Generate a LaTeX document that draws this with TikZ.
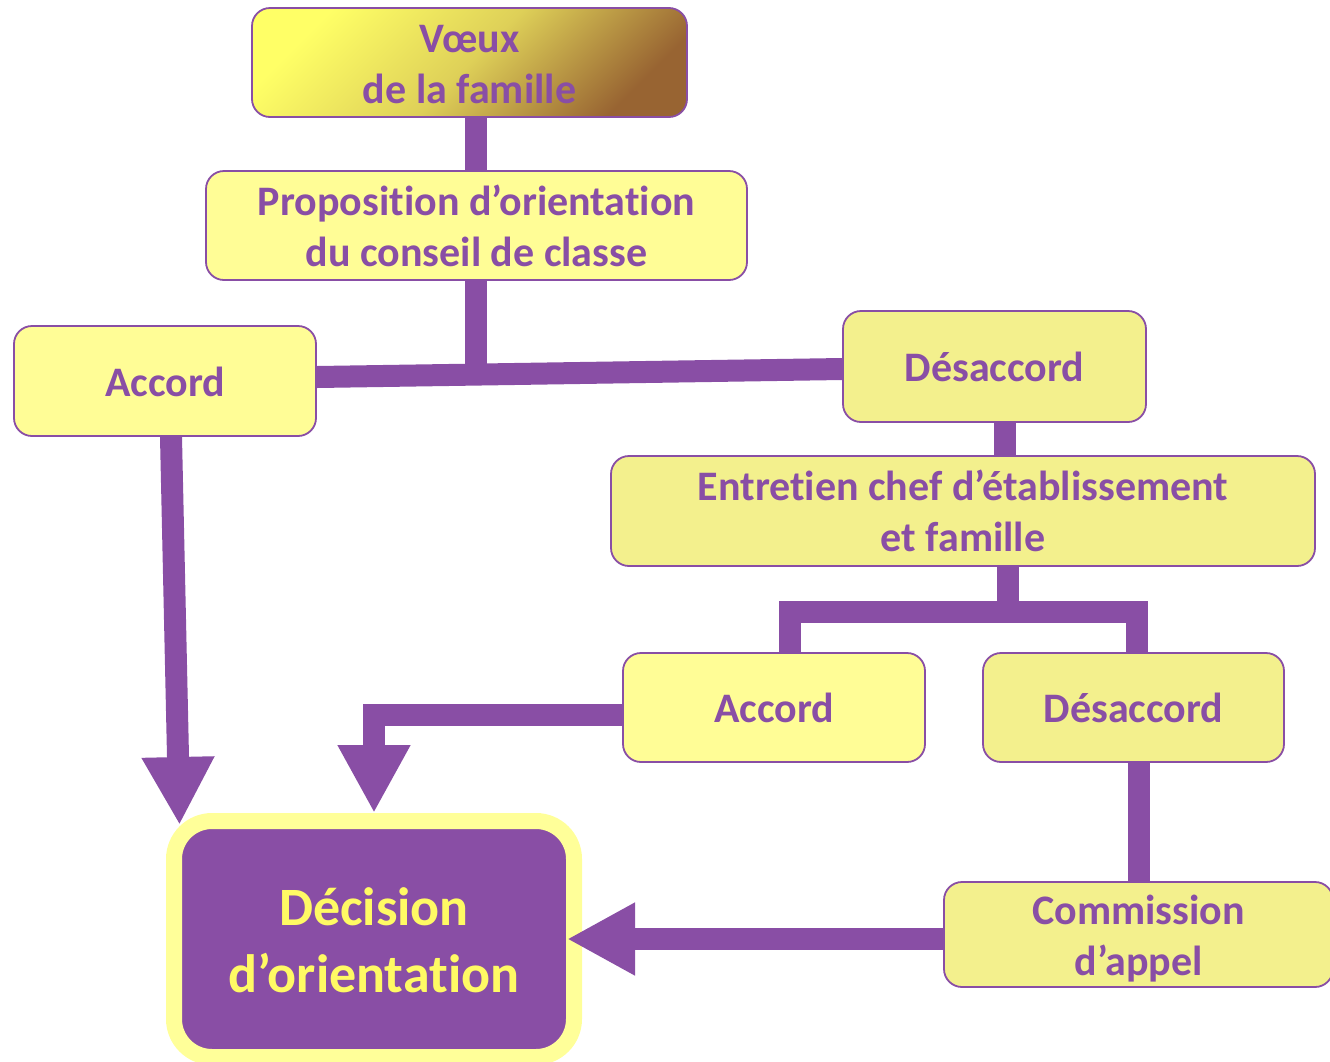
\documentclass[tikz,border=0pt]{standalone}
\usepackage{fontspec}
\setmainfont{Carlito}[Ligatures=CommonOff]
\usetikzlibrary{arrows.meta,calc}
\definecolor{purp}{RGB}{137,78,165}
\definecolor{fillA}{RGB}{255,253,150}
\definecolor{fillB}{RGB}{243,240,141}
\definecolor{decborder}{RGB}{255,255,153}
\definecolor{dectext}{RGB}{255,250,100}
\definecolor{gradA}{RGB}{255,255,102}
\definecolor{gradM}{RGB}{222,208,88}
\definecolor{gradB}{RGB}{152,100,50}
\newcommand\myTop{\rule{0pt}{41pt}}
\newcommand\myBot{\rule[-11pt]{0pt}{11pt}}
\newcommand\decTop{\rule{0pt}{57pt}}
\newcommand\decBot{\rule[-18pt]{0pt}{18pt}}
\tikzset{
  box/.style={draw=purp, line width=1.8pt, rounded corners=18pt, inner sep=0pt,
    align=center, text=purp, font=\bfseries\fontsize{42}{51}\selectfont},
  boxA/.style={box, fill=fillA},
  boxB/.style={box, fill=fillB},
  decbox/.style={draw=decborder, fill=purp, line width=16pt, rounded corners=38pt,
    inner sep=0pt, align=center, text=dectext, font=\bfseries\fontsize{54}{67}\selectfont},
  conn/.style={draw=purp, line width=22pt, line join=miter},
  arr/.style={conn, -{Triangle[length=68pt,width=68pt]}}
}
\begin{document}
\begin{tikzpicture}[x=1pt,y=-1pt]
\useasboundingbox (0,0) rectangle (1330,1061);

\node[box, top color=gradA, bottom color=gradB, middle color=gradM, shading angle=45,
      minimum width=435pt, minimum height=109pt] (voeux) at (469.5,62.5) {\myTop Vœux\\de la famille\myBot};
\node[boxA, minimum width=541pt, minimum height=109pt] (prop) at (476.5,225.5) {\myTop Proposition d’orientation\\du conseil de classe\myBot};
\node[boxA, minimum width=302pt, minimum height=110pt] (a1) at (165,381) {\myTop Accord\myBot};
\node[boxB, minimum width=303pt, minimum height=111pt] (d1) at (994.5,366.5) {\myTop Désaccord\myBot};
\node[boxB, minimum width=704pt, minimum height=110pt] (ent) at (963,511) {\myTop Entretien chef d’établissement\\et famille\myBot};
\node[boxA, minimum width=302pt, minimum height=109pt] (a2) at (774,707.5) {\myTop Accord\myBot};
\node[boxB, minimum width=301pt, minimum height=109pt] (d2) at (1133.5,707.5) {\myTop Désaccord\myBot};
\node[boxB, minimum width=389pt, minimum height=105pt] (comm) at (1138.5,934.5) {\myTop Commission\\d’appel\myBot};
\node[decbox, minimum width=400pt, minimum height=236pt] (dec) at (374,939) {\decTop Décision\\d’orientation\decBot};

% connectors
\coordinate (pv) at ($(prop.north)+(-0.5,0)$);
\draw[conn] (pv) -- (pv |- voeux.south);
\coordinate (ps) at ($(prop.south)+(-0.5,0)$);
\draw[conn] (ps) -- ($(ps)+(0,95)$) coordinate (pj);
\draw[conn] ($(a1.east)+(0,-4)$) -- ($(d1.west)+(0,2.5)$);

\coordinate (ds) at ($(d1.south)+(10.5,0)$);
\draw[conn] (ds) -- (ds |- ent.north);

\coordinate (es) at ($(ent.south)+(45,0)$);
\coordinate (bar) at ($(es)+(0,45)$);
\draw[conn] (es) -- (bar);
\coordinate (a2t) at ($(a2.north)+(16,0)$);
\coordinate (d2t) at ($(d2.north)+(3.5,0)$);
\draw[conn] (a2t) -- (a2t |- bar) -- (d2t |- bar) -- (d2t);

\coordinate (d2s) at ($(d2.south)+(5.5,0)$);
\draw[conn] (d2s) -- (d2s |- comm.north);

% arrows into the decision
\coordinate (a1s) at ($(a1.south)+(6,0)$);
\coordinate (tip1) at (179.5,825);
\draw[arr] (a1s) -- (tip1);
\draw[arr] ($(a2.west)+(0,7.5)$) -| (dec.north);
\draw[arr] ($(comm.west)+(0,4.5)$) -- ($(dec.east)+(-15,0)$);
\end{tikzpicture}
\end{document}
